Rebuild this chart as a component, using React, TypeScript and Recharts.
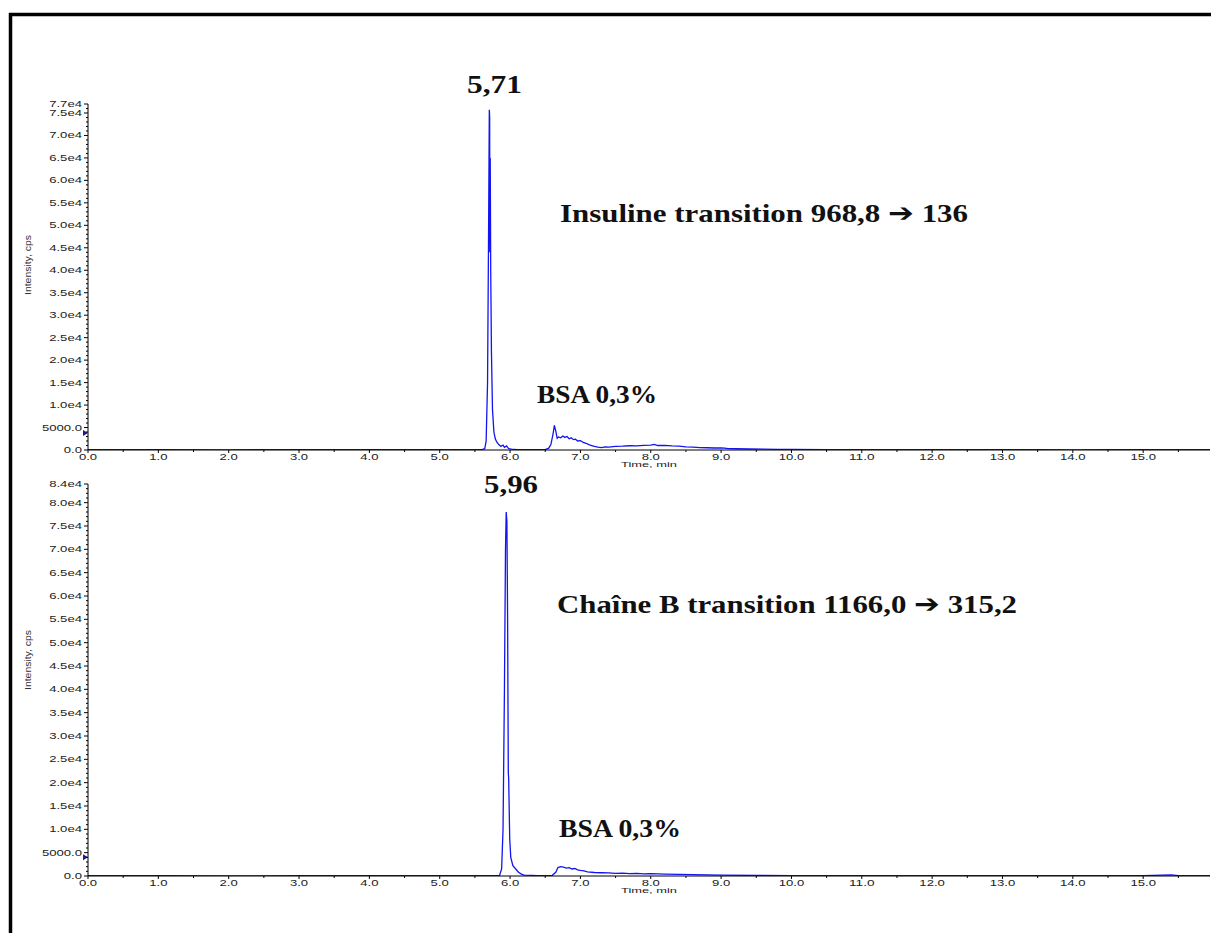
import React from 'react';
import { LineChart, Line, XAxis, YAxis, ReferenceDot } from 'recharts';

// ---- Data (time in min, intensity in cps) ----
const insulinTime = [0, 1, 2, 3, 4, 5, 5.5, 5.6, 5.64, 5.66, 5.68, 5.695, 5.705, 5.71, 5.712, 5.718, 5.725, 5.735, 5.75, 5.77, 5.79, 5.81, 5.84, 5.87, 5.9, 5.92, 5.95, 5.98, 6.02, 6.1, 6.3, 6.5, 6.55, 6.58, 6.61, 6.63, 6.65, 6.67, 6.69, 6.72, 6.75, 6.78, 6.81, 6.84, 6.87, 6.9, 6.93, 6.96, 7.0, 7.04, 7.08, 7.12, 7.16, 7.2, 7.25, 7.3, 7.35, 7.4, 7.5, 7.6, 7.7, 7.8, 7.9, 8.0, 8.05, 8.1, 8.2, 8.3, 8.4, 8.5, 8.6, 8.7, 8.8, 8.9, 9.0, 9.05, 9.1, 9.2, 9.4, 9.6, 9.8, 10.0, 10.5, 11.0, 11.5, 12.0, 12.5, 13.0, 13.5, 14.0, 14.5, 15.0, 15.5, 15.95];
const insulinValues = [60, 80, 50, 70, 60, 80, 60, 80, 300, 2000, 15000, 50000, 75700, 74000, 44000, 65000, 40000, 22000, 9000, 4000, 2500, 1800, 1200, 800, 1100, 600, 900, 300, 200, 100, 80, 100, 400, 1200, 3500, 5500, 4200, 2600, 2900, 2700, 3100, 2800, 3000, 2500, 2700, 2300, 2400, 2000, 2100, 1700, 1500, 1200, 1000, 800, 650, 550, 700, 650, 800, 850, 950, 900, 1050, 1100, 1250, 1000, 1050, 900, 850, 700, 650, 550, 500, 450, 480, 400, 300, 280, 220, 180, 150, 130, 100, 80, 90, 70, 90, 60, 80, 50, 70, 60, 80, 50];

const chainBTime = [0, 1, 2, 3, 4, 5, 5.5, 5.8, 5.85, 5.88, 5.9, 5.92, 5.935, 5.945, 5.955, 5.965, 5.975, 5.98, 5.995, 6.01, 6.04, 6.08, 6.12, 6.16, 6.2, 6.4, 6.6, 6.65, 6.68, 6.72, 6.76, 6.8, 6.84, 6.88, 6.92, 6.96, 7.0, 7.05, 7.1, 7.2, 7.3, 7.4, 7.5, 7.6, 7.7, 7.8, 7.9, 8.0, 8.2, 8.4, 8.6, 8.8, 9.0, 9.5, 10.0, 11.0, 12.0, 13.0, 14.0, 15.0, 15.4, 15.5, 15.95];
const chainBValues = [50, 60, 40, 60, 50, 60, 50, 50, 100, 1500, 10000, 40000, 70000, 78000, 76000, 55000, 22000, 21000, 8000, 4000, 2200, 1500, 800, 400, 200, 100, 150, 800, 1800, 2000, 1900, 1700, 1800, 1500, 1600, 1300, 1200, 1100, 900, 750, 700, 650, 550, 600, 500, 550, 450, 500, 400, 350, 300, 250, 200, 120, 100, 80, 60, 60, 50, 60, 250, 80, 50];

const xTicks = [0, 0.5, 1, 1.5, 2, 2.5, 3, 3.5, 4, 4.5, 5, 5.5, 6, 6.5, 7, 7.5, 8, 8.5, 9, 9.5, 10, 10.5, 11, 11.5, 12, 12.5, 13, 13.5, 14, 14.5, 15, 15.5];
const topYMax = 77000;
const bottomYMax = 84000;
const topYTicks = Array.from({ length: topYMax / 1000 + 1 }, (_, i) => i * 1000);
const bottomYTicks = Array.from({ length: bottomYMax / 1000 + 1 }, (_, i) => i * 1000);
const markerTop = 3800;
const markerBottom = 4000;

const insulinData = insulinTime.map((t, i) => ({ t, v: insulinValues[i] }));
const chainBData = chainBTime.map((t, i) => ({ t, v: chainBValues[i] }));

const LINE = '#1414F0';
const SANS = 'Liberation Sans, Arial, sans-serif';
const SERIF = 'Liberation Serif, Times New Roman, serif';

const charW = (s: string) => s.split('').reduce((a, c) => a + (c === '.' ? 3.6 : 7.3), 0);

const fmtY = (v: number) => (v < 10000 ? v.toFixed(1) : (v / 10000).toFixed(1) + 'e4');

const makeYTick = (max: number) => (props: any) => {
  const { x, y, payload } = props;
  const v = payload.value;
  const major = v % 5000 === 0 || v === max;
  const label = fmtY(v);
  return (
    <g>
      <line x1={x - (major ? 4 : 2)} x2={x} y1={y} y2={y} stroke="#000" strokeWidth={1} />
      {major && (
        <text x={x - 6} y={y + 3} textAnchor="end" fontSize={9} fontFamily={SANS} fill="#222"
          textLength={charW(label)} lengthAdjust="spacingAndGlyphs">{label}</text>
      )}
    </g>
  );
};

const XTick = (props: any) => {
  const { x, y, payload } = props;
  const v = payload.value;
  const major = Number.isInteger(v);
  const label = v.toFixed(1);
  return (
    <g>
      <line x1={x} x2={x} y1={y} y2={y + (major ? 3 : 2)} stroke="#000" strokeWidth={1} />
      {major && (
        <text x={x} y={y + 10} textAnchor="middle" fontSize={8.5} fontFamily={SANS} fill="#222"
          textLength={charW(label)} lengthAdjust="spacingAndGlyphs">{label}</text>
      )}
    </g>
  );
};

const timeLabel = (dy: number) => (props: any) => {
  const vb = props.viewBox || {};
  return (
    <text x={vb.x + vb.width / 2} y={vb.y + dy} textAnchor="middle" fontSize={8} fontFamily={SANS} fill="#222"
      textLength={56} lengthAdjust="spacingAndGlyphs">Time, min</text>
  );
};

const marker = (p: any) => (
  <polygon points={`${p.cx - 5},${p.cy - 3} ${p.cx},${p.cy} ${p.cx - 5},${p.cy + 3}`} fill="#1a1a90" />
);

const Ann = ({ x, y, len, children }: any) => (
  <text x={x} y={y} fontSize={26} fontWeight="bold" fontFamily={SERIF} fill="#111"
    textLength={len} lengthAdjust="spacingAndGlyphs">{children}</text>
);

const Arrow = () => <tspan fontFamily="DejaVu Sans" fontWeight="bold">➔</tspan>;

export default function App() {
  return (
    <div style={{ position: 'absolute', left: 0, top: 0, width: 1211, height: 933, background: '#fff', overflow: 'hidden' }}>
      <div style={{ position: 'absolute', left: 0, top: 0, width: 1211, height: 472, overflow: 'hidden' }}>
        <LineChart width={1211} height={472} data={insulinData} margin={{ top: 104, right: 1, bottom: 6, left: 0 }}>
          <XAxis type="number" dataKey="t" domain={[0, 15.95]} ticks={xTicks} interval={0} tick={XTick}
            tickSize={0} tickMargin={0} height={16} axisLine={{ stroke: '#000' }} allowDataOverflow
            label={timeLabel(17)} />
          <YAxis type="number" domain={[0, topYMax]} ticks={topYTicks} interval={0} width={88}
            tick={makeYTick(topYMax)} tickSize={0} tickMargin={0} axisLine={{ stroke: '#000' }} allowDataOverflow />
          <Line type="linear" dataKey="v" stroke={LINE} strokeWidth={1.3} dot={false} isAnimationActive={false} />
          <ReferenceDot x={0} y={markerTop} r={0} ifOverflow="visible" shape={marker} />
        </LineChart>
      </div>
      <div style={{ position: 'absolute', left: 0, top: 0, width: 1211, height: 906 }}>
        <LineChart width={1211} height={906} data={chainBData} margin={{ top: 484, right: 1, bottom: 0, left: 0 }}>
          <XAxis type="number" dataKey="t" domain={[0, 15.95]} ticks={xTicks} interval={0} tick={XTick}
            tickSize={0} tickMargin={0} height={30} axisLine={{ stroke: '#000' }} allowDataOverflow
            label={timeLabel(17)} />
          <YAxis type="number" domain={[0, bottomYMax]} ticks={bottomYTicks} interval={0} width={88}
            tick={makeYTick(bottomYMax)} tickSize={0} tickMargin={0} axisLine={{ stroke: '#000' }} allowDataOverflow />
          <Line type="linear" dataKey="v" stroke={LINE} strokeWidth={1.3} dot={false} isAnimationActive={false} />
          <ReferenceDot x={0} y={markerBottom} r={0} ifOverflow="visible" shape={marker} />
        </LineChart>
      </div>
      <svg width={1211} height={933} style={{ position: 'absolute', left: 0, top: 0, pointerEvents: 'none' }}>
        <line x1={9} x2={1211} y1={14.5} y2={14.5} stroke="#000" strokeWidth={3.5} />
        <line x1={10.5} x2={10.5} y1={13} y2={933} stroke="#000" strokeWidth={3.5} />
        <text transform="translate(31,265) rotate(-90)" textAnchor="middle" fontSize={8.5} fontFamily={SANS} fill="#333"
          textLength={60} lengthAdjust="spacingAndGlyphs">Intensity, cps</text>
        <text transform="translate(31,660) rotate(-90)" textAnchor="middle" fontSize={8.5} fontFamily={SANS} fill="#333"
          textLength={60} lengthAdjust="spacingAndGlyphs">Intensity, cps</text>
        <Ann x={467} y={93} len={55}>5,71</Ann>
        <Ann x={560} y={222} len={408}>Insuline transition 968,8 <Arrow /> 136</Ann>
        <Ann x={537} y={403} len={120}>BSA 0,3%</Ann>
        <Ann x={484} y={493} len={54}>5,96</Ann>
        <Ann x={557} y={613} len={460}>Chaîne B transition 1166,0 <Arrow /> 315,2</Ann>
        <Ann x={559} y={837} len={122}>BSA 0,3%</Ann>
      </svg>
    </div>
  );
}
